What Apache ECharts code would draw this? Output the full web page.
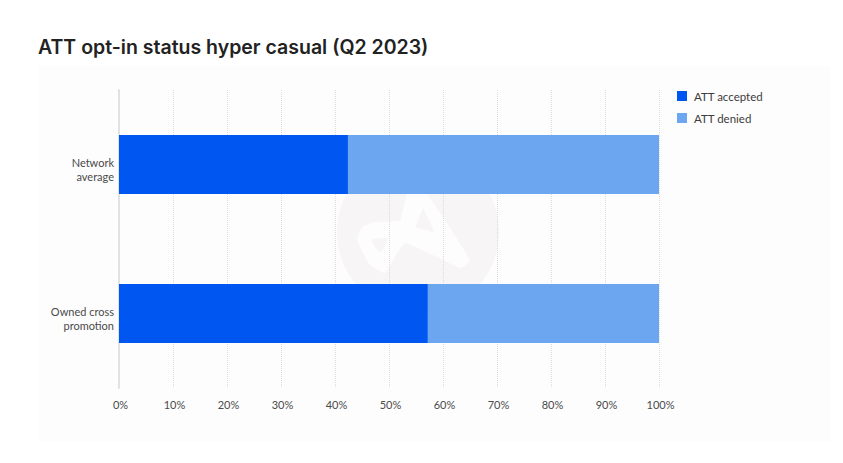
<!DOCTYPE html>
<html><head><meta charset="utf-8">
<style>html,body{margin:0;padding:0;background:#fff}#c{width:843px;height:463px}</style>
<script src="https://cdn.jsdelivr.net/npm/echarts@6/dist/echarts.min.js"></script>
</head><body><div id="c"></div>
<script>
const categories = ['Network\naverage', 'Owned cross\npromotion'];
const accepted = [42.4, 57.2];
const denied = [57.6, 42.8];
const titleText = 'ATT opt-in status hyper casual (Q2 2023)';
const titleFont = 'Inter';
const font = 'Lato';
const chart = echarts.init(document.getElementById('c'), null, {renderer:'svg'});
chart.setOption({
  animation:false,
  backgroundColor:'#ffffff',
  title:{text:titleText,left:33,top:32,textStyle:{fontFamily:titleFont,fontSize:19.5,fontWeight:600,color:'#222222'}},
  legend:{orient:'vertical',left:672,top:85,itemWidth:10,itemHeight:10,itemGap:10,icon:'rect',
    textStyle:{fontFamily:font,fontSize:11.5,color:'#3c3c3c',padding:[0,0,0,2]},
    data:['ATT accepted','ATT denied']},
  graphic:[
    {type:'rect',z:-10,silent:true,shape:{x:38,y:66,width:792,height:376},style:{fill:'#fdfdfd'}},
    {type:'circle',z:-9,silent:true,shape:{cx:418,cy:232,r:81},style:{fill:'#f7f5f5'}},
    {type:'polygon',z:-8,silent:true,shape:{smooth:0.12,points:[[408,190],[424,190],[470,260],[460,268],[405,243],[385,273],[370,265],[357,240],[362,227],[375,222],[400,220]]},style:{fill:'#fdfdfd'}},
    {type:'polygon',z:-7,silent:true,shape:{points:[[423,208],[435,233],[415,227]]},style:{fill:'#f7f5f5'}},
    {type:'polygon',z:-7,silent:true,shape:{smooth:0.3,points:[[372,240],[387,239],[380,252]]},style:{fill:'#f7f5f5'}}
  ],
  grid:{left:119,right:184,top:90,bottom:75,containLabel:false},
  xAxis:{type:'value',min:0,max:100,interval:10,
    axisLine:{show:false},axisTick:{show:false},
    axisLabel:{formatter:'{value}%',fontFamily:font,fontSize:11,color:'#4a4a4a',margin:11,padding:[0,0,0,3]},
    splitLine:{show:true,lineStyle:{type:'dotted',color:'#dcdcdc',width:1}}},
  yAxis:{type:'category',inverse:true,data:categories,
    axisLine:{show:true,lineStyle:{color:'#e2e2e2',width:2}},axisTick:{show:false},
    axisLabel:{margin:5,align:'right',
      formatter:v=>'{s| }\n'+v.split('\n').map(l=>'{a|'+l+'}').join('\n'),
      rich:{
        s:{fontSize:1,lineHeight:10,height:10},
        a:{fontFamily:font,fontSize:11,color:'#4a4a4a',lineHeight:14,align:'right'}
      }}},
  series:[
    {name:'ATT accepted',type:'bar',stack:'a',barWidth:59,data:accepted,itemStyle:{color:'#0056f0'}},
    {name:'ATT denied',type:'bar',stack:'a',barWidth:59,data:denied,itemStyle:{color:'#6ca5f0'}}
  ]
});
</script></body></html>
